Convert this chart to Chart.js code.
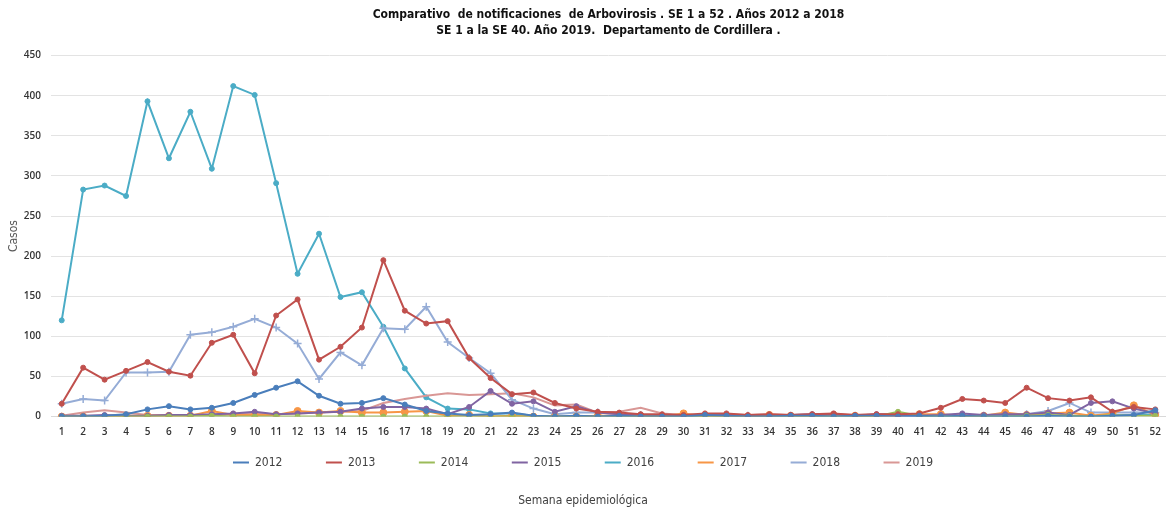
<!DOCTYPE html>
<html>
<head>
<meta charset="utf-8">
<script src="https://cdn.jsdelivr.net/npm/chart.js@4/dist/chart.umd.min.js"></script>
<style>
  html, body { margin: 0; padding: 0; background: #fff; }
  #wrap { width: 1166px; height: 510px; }
</style>
</head>
<body>
<div id="wrap"><canvas id="arbo-chart" width="1166" height="510"></canvas></div>
<script>
const weeks = Array.from({ length: 52 }, (_, i) => String(i + 1));

const years = ['2012', '2013', '2014', '2015', '2016', '2017', '2018', '2019'];

const cases2012 = [0, 0, 1, 3, 9, 13, 9, 11, 17, 27, 36, 44, 26, 16, 17, 23, 15, 7, 4, 2, 3, 5, 1, 0, 1, 0,
  1, 0, 0, 0, 2, 1, 0, 0, 1, 1, 0, 1, 1, 0, 1, 0, 1, 0, 0, 0, 1, 0, 0, 1, 2, 8];
const cases2013 = [16, 61, 46, 57, 68, 56, 51, 92, 102, 54, 126, 146, 71, 87, 111, 195, 132, 116, 119, 73, 48, 28, 30, 17, 10, 6,
  5, 3, 3, 2, 4, 4, 2, 3, 2, 3, 4, 2, 3, 3, 4, 11, 22, 20, 17, 36, 23, 20, 24, 6, 12, 9];
const cases2014 = [0, 0, 0, 0, 0, 0, 0, 1, 0, 0, 0, 0, 0, 0, 0, 0, 0, 0, 0, 0, 0, 0, 0, 0, 0, 0,
  0, 0, 0, 0, 0, 0, 0, 0, 0, 0, 0, 0, 0, 6, 1, 0, 0, 0, 0, 1, 2, 1, 0, 2, 1, 1];
const cases2015 = [1, 1, 2, 1, 1, 2, 2, 3, 4, 6, 3, 4, 5, 6, 10, 12, 12, 10, 3, 12, 32, 16, 19, 6, 13, 5,
  3, 2, 1, 1, 2, 2, 1, 1, 2, 3, 3, 1, 3, 2, 1, 2, 4, 2, 3, 3, 5, 2, 17, 19, 10, 4];
const cases2016 = [120, 283, 288, 275, 393, 322, 380, 309, 412, 401, 291, 178, 228, 149, 155, 112, 60, 24, 10, 9, 4, 4, 1, 0, 0, 0,
  0, 0, 0, 0, 0, 0, 0, 0, 0, 0, 0, 0, 0, 0, 0, 0, 0, 0, 0, 0, 1, 1, 1, 1, 2, 3];
const cases2017 = [0, 0, 0, 1, 1, 1, 1, 7, 2, 2, 2, 7, 5, 7, 5, 5, 6, 7, 1, 2, 0, 1, 0, 0, 0, 1,
  1, 1, 0, 4, 0, 0, 0, 2, 1, 1, 2, 1, 0, 1, 3, 3, 1, 1, 5, 2, 4, 5, 1, 4, 14, 2];
const cases2018 = [16, 22, 20, 55, 55, 56, 102, 105, 112, 122, 111, 91, 47, 80, 64, 110, 109, 137, 93, 73, 54, 21, 10, 3, 5, 5,
  3, 2, 1, 1, 1, 1, 1, 1, 1, 1, 1, 1, 1, 1, 1, 1, 1, 1, 2, 3, 7, 17, 5, 5, 5, 5];
const cases2019 = [1, 5, 8, 5, 2, 2, 2, 2, 3, 4, 3, 4, 5, 6, 7, 17, 22, 26, 29, 27, 28, 29, 24, 14, 15, 5,
  6, 11, 4, 2, 3, 3, 2, 3, 2, 3, 3, 2, 3, 3];

const yTicks = [0, 50, 100, 150, 200, 250, 300, 350, 400, 450];

const seriesColors = ['#4a7ebb', '#c0504d', '#9bbb59', '#8064a2', '#4bacc6', '#f79646', '#95acd6', '#d99795'];

document.addEventListener('DOMContentLoaded', () => {
  const ctx = document.getElementById('arbo-chart').getContext('2d');
  const narrow = "'DejaVu Sans Condensed', 'DejaVu Sans', sans-serif";
  const allCases = [cases2012, cases2013, cases2014, cases2015, cases2016, cases2017, cases2018, cases2019];

  const datasets = years.map((year, i) => ({
    label: year,
    data: allCases[i],
    borderColor: seriesColors[i],
    backgroundColor: seriesColors[i],
    borderWidth: 2,
    pointStyle: year === '2018' ? 'cross' : 'circle',
    pointRadius: year === '2019' ? 0 : (year === '2017' ? 3.5 : (year === '2018' ? 4 : 2.5)),
    pointBorderWidth: year === '2018' ? 1.5 : 1,
    tension: 0,
    fill: false
  }));
  // 2016 goes behind the small series
  datasets[4].order = 10;

  new Chart(ctx, {
    type: 'line',
    data: { labels: weeks, datasets },
    options: {
      responsive: false,
      animation: false,
      layout: { autoPadding: false },
      plugins: {
        title: {
          display: true,
          fullSize: false,
          text: ['Comparativo  de notificaciones  de Arbovirosis . SE 1 a 52 . Años 2012 a 2018',
                 'SE 1 a la SE 40. Año 2019.  Departamento de Cordillera .'],
          color: '#111',
          font: { family: narrow, size: 12, weight: 'bold', lineHeight: 1.4 },
          padding: { top: 6, bottom: 16 }
        },
        subtitle: {
          display: true,
          position: 'bottom',
          text: 'Semana epidemiológica',
          color: '#404040',
          font: { family: narrow, size: 12, weight: 'normal' },
          padding: { top: 15, bottom: 2 }
        },
        legend: {
          position: 'bottom',
          labels: {
            boxWidth: 16,
            boxHeight: 2,
            padding: 10,
            color: '#404040',
            font: { family: narrow, size: 12 },
            generateLabels(chart) {
              const items = Chart.defaults.plugins.legend.labels.generateLabels(chart);
              items.forEach((it) => {
                it.lineWidth = 0;
                it.fillStyle = seriesColors[it.datasetIndex];
              });
              items.sort((a, b) => a.datasetIndex - b.datasetIndex);
              items.forEach((it, i) => {
                if (i < items.length - 1) it.text += '\u2003\u2003\u2003\u200A';
              });
              return items;
            }
          }
        },
        tooltip: { enabled: false }
      },
      scales: {
        x: {
          offset: true,
          grid: { display: false, drawTicks: false },
          border: { display: true, color: '#d9d9d9' },
          ticks: {
            autoSkip: false,
            maxRotation: 0,
            padding: 10,
            color: '#333',
            font: { family: "'Open Sans', sans-serif", size: 10, weight: '600' }
          },
          afterFit: (scale) => {
            scale.height = 30;
            scale.paddingLeft = 0;
            scale.paddingRight = 0;
          }
        },
        y: {
          min: 0,
          max: 450,
          afterBuildTicks: (scale) => { scale.ticks = yTicks.map(v => ({ value: v })); },
          grid: { color: '#e3e3e3', lineWidth: 1, drawTicks: false },
          border: { display: false },
          ticks: {
            padding: 10,
            color: '#333',
            font: { family: "'Open Sans', sans-serif", size: 10, weight: '600' }
          },
          title: {
            display: true,
            text: 'Casos',
            color: '#595959',
            font: { family: narrow, size: 12 },
            padding: { top: 7, bottom: 0 }
          },
          afterFit: (scale) => { scale.width = 51; }
        }
      }
    }
  });
});
</script>
</body>
</html>
